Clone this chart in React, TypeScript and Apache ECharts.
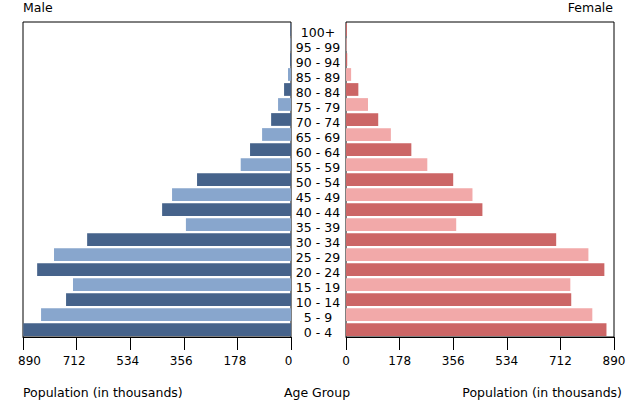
import React, { useEffect, useRef } from "react";
import * as echarts from "echarts";

const ageGroups = [
  "0 - 4", "5 - 9", "10 - 14", "15 - 19", "20 - 24", "25 - 29", "30 - 34",
  "35 - 39", "40 - 44", "45 - 49", "50 - 54", "55 - 59", "60 - 64", "65 - 69",
  "70 - 74", "75 - 79", "80 - 84", "85 - 89", "90 - 94", "95 - 99", "100+",
];
const male = [889, 830, 747, 724, 843, 787, 677, 349, 428, 395, 312, 167, 136, 96, 66, 43, 23, 10, 3, 2, 2];
const female = [865, 818, 748, 745, 858, 805, 698, 366, 453, 420, 356, 270, 217, 149, 107, 73, 41, 17, 4, 2, 3];
const tickMax = 890;
const tickStep = 178;

const maleDark = "#46638b";
const maleLight = "#88a6cd";
const femaleDark = "#cc6666";
const femaleLight = "#f2a9a9";
const FONT = "DejaVu Sans";

export default function App() {
  const ref = useRef<HTMLDivElement>(null);
  useEffect(() => {
    if (!ref.current) return;
    const chart = echarts.init(ref.current, null, { renderer: "svg" });
    const axisText = { color: "#000", fontSize: 12, fontFamily: FONT };
    const valueAxis = (gridIndex: number, inverse: boolean) => ({
      type: "value",
      gridIndex,
      min: 0,
      max: tickMax,
      interval: tickStep,
      inverse,
      axisLine: { show: true, lineStyle: { color: "#000", width: 1 } },
      axisTick: { show: true, length: 13, lineStyle: { color: "#000" } },
      axisLabel: { ...axisText, margin: 18, ...(inverse ? { alignMaxLabel: "left", padding: [0, 0, 0, -5] } : {}) },
      splitLine: { show: false },
    });
    chart.setOption({
      animation: false,
      backgroundColor: "#fff",
      grid: [
        { left: 23, right: 340, top: 22, bottom: 74, show: true, borderColor: "#000", borderWidth: 1, backgroundColor: "transparent" },
        { left: 346, right: 17, top: 22, bottom: 74, show: true, borderColor: "#000", borderWidth: 1, backgroundColor: "transparent" },
      ],
      xAxis: [valueAxis(0, true), valueAxis(1, false)],
      yAxis: [
        {
          type: "category", gridIndex: 0, data: ageGroups,
          axisLine: { show: false }, axisTick: { show: false }, axisLabel: { show: false },
        },
        {
          type: "category", gridIndex: 1, data: ageGroups, position: "left",
          axisLine: { show: false }, axisTick: { show: false },
          axisLabel: {
            ...axisText, fontSize: 12.5, align: "center", margin: 28, interval: 0,
            formatter: "{a|{value}}",
            rich: { a: { fontSize: 12.5, fontFamily: FONT, color: "#000", padding: [5, 0, 0, 0] } },
          },
        },
      ],
      series: [
        {
          type: "bar", xAxisIndex: 0, yAxisIndex: 0, barCategoryGap: "15%",
          data: male.map((v, i) => ({ value: v, itemStyle: { color: i % 2 === 0 ? maleDark : maleLight } })),
        },
        {
          type: "bar", xAxisIndex: 1, yAxisIndex: 1, barCategoryGap: "15%",
          data: female.map((v, i) => ({ value: v, itemStyle: { color: i % 2 === 0 ? femaleDark : femaleLight } })),
        },
      ],
      graphic: [
        { type: "text", left: 23, top: 1, style: { text: "Male", fontSize: 12.5, fontFamily: FONT, fill: "#000" } },
        { type: "text", right: 18, top: 1, style: { text: "Female", fontSize: 12.5, fontFamily: FONT, fill: "#000" } },
        { type: "text", left: 23, top: 386, style: { text: "Population (in thousands)", fontSize: 12.5, fontFamily: FONT, fill: "#000" } },
        { type: "text", x: 317, y: 386, style: { text: "Age Group", fontSize: 12.5, fontFamily: FONT, fill: "#000", textAlign: "center" } },
        { type: "text", right: 9, top: 386, style: { text: "Population (in thousands)", fontSize: 12.5, fontFamily: FONT, fill: "#000" } },
      ],
    });
    return () => chart.dispose();
  }, []);
  return <div ref={ref} style={{ width: 631, height: 411, position: "absolute", left: 0, top: 0 }} />;
}
